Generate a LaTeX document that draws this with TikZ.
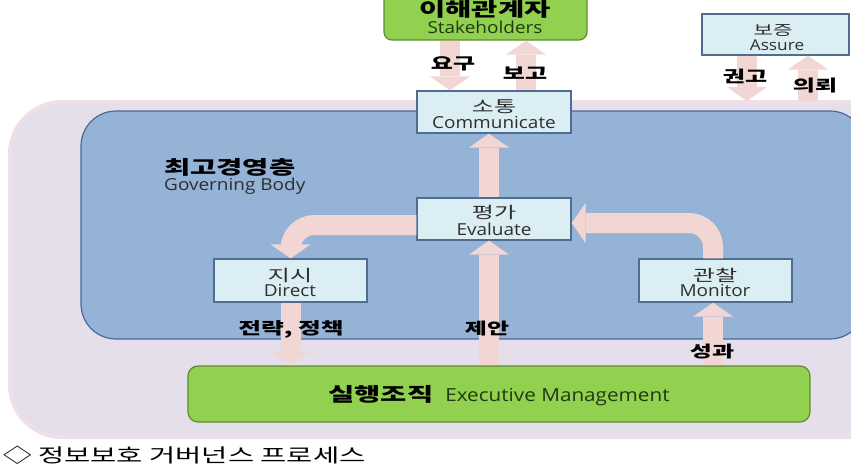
\documentclass[tikz,border=0pt]{standalone}
\usepackage{fontspec}
\usetikzlibrary{arrows.meta}
\newfontfamily\kr[FakeStretch=1.5]{Noto Sans CJK KR}
\newfontfamily\la[FakeStretch=1.15]{Open Sans}
\definecolor{lav}{HTML}{E5DFEC}
\definecolor{lavedge}{HTML}{EFDFE6}
\definecolor{govblue}{HTML}{95B3D7}
\definecolor{govline}{HTML}{4A6A94}
\definecolor{boxfill}{HTML}{DBEEF4}
\definecolor{boxline}{HTML}{4F6D91}
\definecolor{grn}{HTML}{92D050}
\definecolor{grnline}{HTML}{5E8C33}
\definecolor{arrowpink}{HTML}{F2D6D4}
\definecolor{txtgray}{HTML}{2E2E2E}
\definecolor{txtgreen}{HTML}{1F3A12}
\tikzset{
  box/.style={draw=boxline, fill=boxfill, line width=1.2pt, inner sep=0pt},
  greenbox/.style={draw=grnline, fill=grn, line width=1.2pt, inner sep=0pt},
  pinkarrow/.style={draw=arrowpink, line width=20pt, -{Triangle[width=40pt,length=14pt,line width=0pt]}},
  krtitle/.style={font={\kr\bfseries\fontsize{19pt}{21pt}\selectfont}, text=black, inner sep=0pt, anchor=base},
  krlab/.style={font={\kr\bfseries\fontsize{16pt}{18pt}\selectfont}, text=black, inner sep=0pt, anchor=base},
  krbox/.style={font={\kr\fontsize{16pt}{18pt}\selectfont}, text=txtgray, inner sep=0pt, anchor=base},
  labox/.style={font={\la\fontsize{16.5pt}{18pt}\selectfont}, text=txtgray, inner sep=0pt, anchor=base},
}
\begin{document}
\begin{tikzpicture}[x=1pt,y=-1pt]
\useasboundingbox (0,0) rectangle (851,469);
\clip (0,0) rectangle (851,469);
\fill[white] (0,0) rectangle (851,469);
% outer lavender region
\filldraw[fill=lav, draw=lavedge, line width=4pt, rounded corners=52pt] (10,102) rectangle (920,437);
% governing body region
\filldraw[fill=govblue, draw=govline, line width=1.2pt, rounded corners=35pt] (81,111) rectangle (865,339);
\node[krtitle, anchor=base west] (gbk) at (164,174) {최고경영층};
\node[labox, anchor=base west] (gbe) at (164,190) {Governing Body};

% boxes
\node[greenbox, rounded corners=8pt, minimum width=203pt, minimum height=50pt] (stake) at (485.5,15) {};
\node[box, minimum width=147pt, minimum height=41pt] (assure) at (775.5,34.5) {};
\node[box, minimum width=154pt, minimum height=42pt] (comm) at (494,112) {};
\node[box, minimum width=154pt, minimum height=42pt] (eval) at (494,219) {};
\node[box, minimum width=153pt, minimum height=43pt] (direct) at (290.5,280.5) {};
\node[box, minimum width=153pt, minimum height=43pt] (monitor) at (715.5,280.5) {};
\node[greenbox, rounded corners=10pt, minimum width=622pt, minimum height=56pt] (exec) at (499,394) {};

% helper coordinates
\coordinate (xyogu) at (450,0);
\coordinate (xbogo) at (526,0);
\coordinate (xgwon) at (747,0);
\coordinate (xui) at (808,0);
\coordinate (ytop) at (0,101);
\coordinate (xmid) at (489,0);
\coordinate (xmon) at (713,0);
\coordinate (ya) at (0,225);
\coordinate (yb) at (0,223);

% arrows
\draw[pinkarrow] (xyogu |- stake.south) -- (xyogu |- comm.north);
\draw[pinkarrow] (xbogo |- comm.north) -- (xbogo |- stake.south);
\draw[pinkarrow] (xgwon |- assure.south) -- (xgwon |- ytop);
\draw[pinkarrow] (xui |- ytop) -- (xui |- assure.south);
\draw[pinkarrow] (xmid |- eval.north) -- (xmid |- comm.south);
\draw[pinkarrow] (xmid |- exec.north) -- (xmid |- eval.south);
\draw[pinkarrow, rounded corners=24pt] (eval.west |- ya) -| (direct.north);
\draw[pinkarrow, rounded corners=24pt] (xmon |- monitor.north) |- (eval.east |- yb);
\draw[pinkarrow] (direct.south) -- (direct.south |- exec.north);
\draw[pinkarrow] (xmon |- exec.north) -- (xmon |- monitor.south);

% box texts
\node[krtitle] (stk) at (485,16) {이해관계자};
\node[labox, text=txtgreen] (ste) at (485,33) {Stakeholders};
\node[krbox, font={\kr\fontsize{14pt}{16pt}\selectfont}] (ask) at (773,35) {보증};
\node[labox, font={\la\fontsize{15pt}{17pt}\selectfont}] (ase) at (777,50) {Assure};
\node[krbox] (cok) at (494,112) {소통};
\node[labox] (coe) at (494,128) {Communicate};
\node[krbox] (evk) at (494,218) {평가};
\node[labox] (eve) at (494,235) {Evaluate};
\node[krbox] (dik) at (290,281) {지시};
\node[labox] (die) at (290,296) {Direct};
\node[krbox] (mok) at (715,281) {관찰};
\node[labox] (moe) at (715,296) {Monitor};
\node[anchor=base, inner sep=0pt] (exk) at (499,401)
  {{\kr\bfseries\fontsize{19pt}{21pt}\selectfont\color{black}실행조직}\hspace{12pt}{\la\fontsize{18pt}{20pt}\selectfont\color{txtgreen}Executive Management}};

% connector labels
\node[krlab] (lyogu) at (453,69) {요구};
\node[krlab] (lbogo) at (525,79) {보고};
\node[krlab] (lgwon) at (745,82) {권고};
\node[krlab] (lui) at (815,91) {의뢰};
\node[krlab, font={\kr\bfseries\fontsize{16.5pt}{18pt}\selectfont}] (lstrat) at (291,334) {전략, 정책};
\node[krlab] (lprop) at (487,334) {제안};
\node[krlab] (lperf) at (712,357) {성과};

% caption
\node[anchor=base west, inner sep=0pt, font={\kr\fontsize{19pt}{21pt}\selectfont}, text=black] (cap) at (3,462) {◇ 정보보호 거버넌스 프로세스};
\end{tikzpicture}
\end{document}
